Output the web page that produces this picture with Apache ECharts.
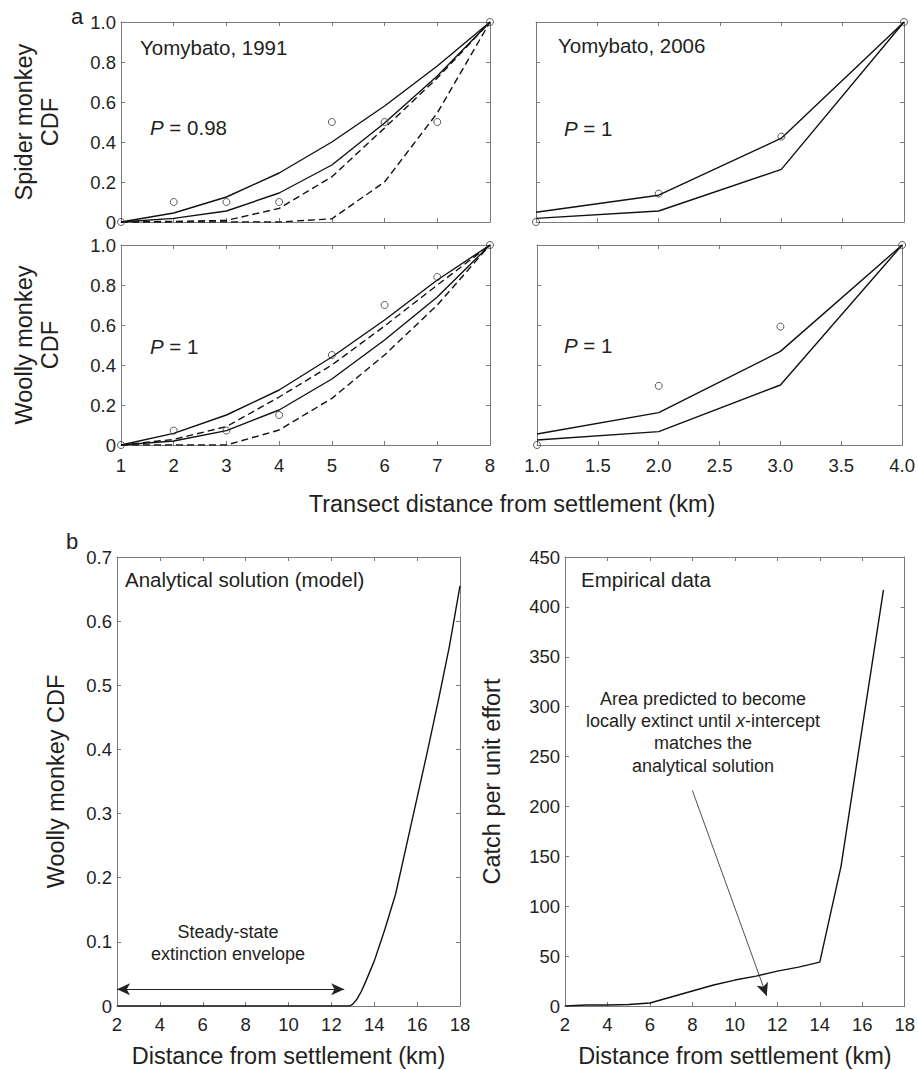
<!DOCTYPE html>
<html><head><meta charset="utf-8">
<script src="https://cdn.jsdelivr.net/npm/echarts@6/dist/echarts.min.js"></script>
<style>html,body{margin:0;padding:0;background:#fff}#c{width:918px;height:1070px}</style>
</head><body><div id="c"></div>
<script>
// ---------- Data ----------
const dist1991 = [1,2,3,4,5,6,7,8];
const spider1991Obs     = [0,0.10,0.10,0.10,0.50,0.50,0.50,1];
const spider1991SolidHi = [0,0.045,0.125,0.245,0.40,0.58,0.78,1];
const spider1991SolidLo = [0,0.018,0.055,0.145,0.285,0.495,0.73,1];
const spider1991DashHi  = [0,0.003,0.008,0.068,0.226,0.47,0.72,1];
const spider1991DashLo  = [0,0,0,0,0.016,0.20,0.545,1];

const woolly1991Obs     = [0,0.072,0.072,0.15,0.45,0.70,0.84,1];
const woolly1991SolidHi = [0,0.058,0.15,0.275,0.44,0.625,0.825,1];
const woolly1991DashHi  = [0,0.028,0.092,0.24,0.40,0.595,0.80,1];
const woolly1991SolidLo = [0,0.02,0.072,0.175,0.33,0.525,0.74,1];
const woolly1991DashLo  = [0,0,0,0.075,0.233,0.45,0.70,1];

const dist2006 = [1,2,3,4];
const spider2006Obs = [0,0.142,0.427,1];
const spider2006Hi  = [0.049,0.134,0.419,1];
const spider2006Lo  = [0.018,0.055,0.263,1];

const woolly2006Obs = [0,0.296,0.592,1];
const woolly2006Hi  = [0.055,0.162,0.468,1];
const woolly2006Lo  = [0.025,0.067,0.30,1];

const modelDist = [2,12.85,13.0,13.2,13.4,13.6,13.8,14,14.5,15,15.5,16,16.5,17,17.5,18];
const modelCDF  = [0,0,0.003,0.011,0.023,0.038,0.054,0.07,0.12,0.175,0.25,0.325,0.40,0.478,0.56,0.655];

const empDist = [2,3,4,5,6,7,8,9,10,11,12,13,14,15,16,17];
const empCPUE = [0,1,1,1.5,3,9,15,21,26,30,35,39,44,140,279,417];

const envelopeArrow = [[2,0.026],[12.6,0.026]];
const extinctArrow  = [[8,216],[11.5,10]];

// ---------- Styling ----------
const FONT = 'Liberation Sans, Arial, Helvetica, sans-serif';
const TXT = '#231f20';
const AX = '#7a7a7a';
const LBL = 18.5;
const TITLE = 23.5;

const grids = [
  {left:121, top:22,  width:369, height:200},   // spider 1991
  {left:536, top:22,  width:368, height:200},   // spider 2006
  {left:121, top:245, width:369, height:200},   // woolly 1991
  {left:537, top:245, width:368, height:200},   // woolly 2006
  {left:117, top:557, width:343, height:449},   // model
  {left:565, top:557, width:342, height:449}    // empirical
];

const xAxes = [], yAxes = [];
function box(g, xs, ys) {
  const common = {
    gridIndex:g, type:'value', splitLine:{show:false},
    axisLine:{show:true, onZero:false, lineStyle:{color:AX, width:1}},
    axisTick:{show:true, inside:true, length:4, lineStyle:{color:AX, width:1}}
  };
  xAxes.push(Object.assign({}, common, {position:'bottom', min:xs.min, max:xs.max, interval:xs.interval,
    name: xs.name || '', nameLocation:'middle', nameGap: xs.nameGap || 40,
    nameTextStyle:{fontFamily:FONT, fontSize:TITLE, color:TXT},
    axisLabel:{show:!!xs.show, margin:xs.margin||9, fontFamily:FONT, fontSize:LBL, color:TXT, formatter:xs.fmt,
      showMinLabel:true, showMaxLabel:true}}));
  xAxes.push(Object.assign({}, common, {position:'top', min:xs.min, max:xs.max, interval:xs.interval, axisLabel:{show:false}}));
  yAxes.push(Object.assign({}, common, {position:'left', min:ys.min, max:ys.max, interval:ys.interval,
    name: ys.name || '', nameLocation:'middle', nameGap: ys.nameGap || 50,
    nameTextStyle:{fontFamily:FONT, fontSize:TITLE, color:TXT, lineHeight:26},
    axisLabel:{show:!!ys.show, margin:5, fontFamily:FONT, fontSize:LBL, color:TXT, formatter:ys.fmt,
      showMinLabel:true, showMaxLabel:true}}));
  yAxes.push(Object.assign({}, common, {position:'right', min:ys.min, max:ys.max, interval:ys.interval, axisLabel:{show:false}}));
}
const f1 = v => v === 0 ? '0' : v.toFixed(1);
const fInt = v => String(Math.round(v));

box(0, {min:1,max:8,interval:1}, {min:0,max:1,interval:0.2,show:true,fmt:f1,name:'Spider monkey\nCDF',nameGap:58});
box(1, {min:1,max:4,interval:0.5}, {min:0,max:1,interval:0.2});
box(2, {min:1,max:8,interval:1,show:true,fmt:fInt,margin:11}, {min:0,max:1,interval:0.2,show:true,fmt:f1,name:'Woolly monkey\nCDF',nameGap:58});
box(3, {min:1,max:4,interval:0.5,show:true,fmt:v=>v.toFixed(1),margin:11}, {min:0,max:1,interval:0.2});
box(4, {min:2,max:18,interval:2,show:true,fmt:fInt,name:'Distance from settlement (km)',nameGap:38},
       {min:0,max:0.7,interval:0.1,show:true,fmt:f1,name:'Woolly monkey CDF',nameGap:48});
box(5, {min:2,max:18,interval:2,show:true,fmt:fInt,name:'Distance from settlement (km)',nameGap:38},
       {min:0,max:450,interval:50,show:true,fmt:fInt,name:'Catch per unit effort',nameGap:60});

const series = [];
function pairs(xs, ys){ return xs.map((x,i)=>[x, ys[i]]); }
function line(g, xs, ys, dashed, extra) {
  series.push(Object.assign({type:'line', xAxisIndex:2*g, yAxisIndex:2*g, data:pairs(xs,ys),
    symbol:'none', silent:true, z:3,
    lineStyle:{color:'#111', width:1.4, type: dashed ? [7,4] : 'solid'}}, extra||{}));
}
function dots(g, xs, ys) {
  series.push({type:'scatter', xAxisIndex:2*g, yAxisIndex:2*g, data:pairs(xs,ys), symbol:'circle', symbolSize:7,
    silent:true, z:5, itemStyle:{color:'rgba(255,255,255,0)', borderColor:'#333', borderWidth:1}});
}
line(0, dist1991, spider1991SolidHi, false);
line(0, dist1991, spider1991SolidLo, false);
line(0, dist1991, spider1991DashHi, true);
line(0, dist1991, spider1991DashLo, true);
dots(0, dist1991, spider1991Obs);

line(1, dist2006, spider2006Hi, false);
line(1, dist2006, spider2006Lo, false);
dots(1, dist2006, spider2006Obs);

line(2, dist1991, woolly1991SolidHi, false);
line(2, dist1991, woolly1991DashHi, true);
line(2, dist1991, woolly1991SolidLo, false);
line(2, dist1991, woolly1991DashLo, true);
dots(2, dist1991, woolly1991Obs);

line(3, dist2006, woolly2006Hi, false);
line(3, dist2006, woolly2006Lo, false);
dots(3, dist2006, woolly2006Obs);

line(4, modelDist, modelCDF, false, {
  markLine:{silent:true, symbol:['arrow','arrow'], symbolSize:[9,13], label:{show:false},
    lineStyle:{color:'#222', width:1, type:'solid'},
    data:[[{coord:envelopeArrow[0]},{coord:envelopeArrow[1]}]]}
});
line(5, empDist, empCPUE, false, {
  markLine:{silent:true, symbol:['none','arrow'], symbolSize:[9,13], label:{show:false},
    lineStyle:{color:'#222', width:0.8, type:'solid'},
    data:[[{coord:extinctArrow[0]},{coord:extinctArrow[1]}]]}
});

function txt(x, y, text, size, align, extra) {
  return Object.assign({type:'text', x:x, y:y, silent:true, style:{text:text, fill:TXT,
    fontFamily:FONT, fontSize:size, align:align||'left', textAlign:align||'left', verticalAlign:'middle', textVerticalAlign:'middle'}}, extra||{});
}
function pText(x, y, val) {
  return {type:'text', x:x, y:y, silent:true, style:{text:'{i|P}{n| = ' + val + '}', align:'left', verticalAlign:'middle',
    rich:{i:{fontFamily:FONT, fontSize:20.5, fontStyle:'italic', fill:TXT}, n:{fontFamily:FONT, fontSize:20.5, fill:TXT}}}};
}
const graphics = [
  txt(77, 16, 'a', 22, 'center'),
  txt(72, 541, 'b', 22, 'center'),
  txt(512, 504, 'Transect distance from settlement (km)', TITLE, 'center'),
  txt(140, 47, 'Yomybato, 1991', 20.5),
  txt(558, 45, 'Yomybato, 2006', 20.5),
  pText(150, 127, '0.98'),
  pText(564, 128, '1'),
  pText(150, 346, '1'),
  pText(564, 345, '1'),
  txt(125, 579, 'Analytical solution (model)', 20.5),
  txt(581, 579, 'Empirical data', 20.5),
  txt(228, 932, 'Steady-state', 18, 'center'),
  txt(228, 954, 'extinction envelope', 18, 'center'),
  txt(703, 699, 'Area predicted to become', 18, 'center'),
  {type:'text', x:703, y:721, silent:true, style:{text:'{n|locally extinct until }{i|x}{n|-intercept}', align:'center', verticalAlign:'middle',
    rich:{i:{fontFamily:FONT, fontSize:18, fontStyle:'italic', fill:TXT}, n:{fontFamily:FONT, fontSize:18, fill:TXT}}}},
  txt(703, 743, 'matches the', 18, 'center'),
  txt(703, 766, 'analytical solution', 18, 'center')
];

const chart = echarts.init(document.getElementById('c'), null, {renderer:'svg'});
chart.setOption({
  animation:false,
  backgroundColor:'#fff',
  grid: grids,
  xAxis: xAxes,
  yAxis: yAxes,
  series: series,
  graphic: graphics
});
</script>
</body></html>
